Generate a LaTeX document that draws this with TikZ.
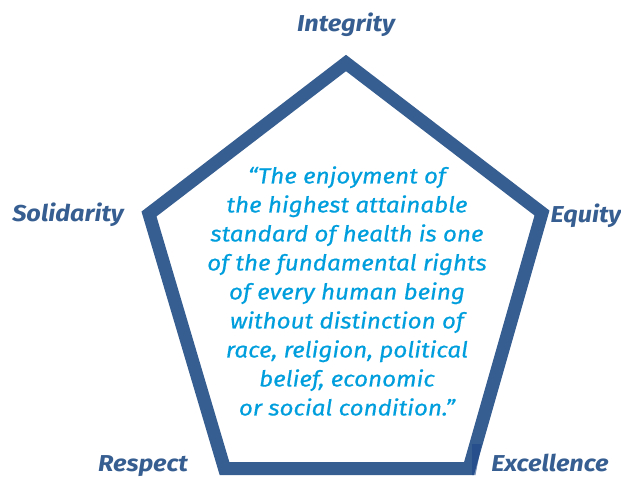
\documentclass[tikz,border=0pt]{standalone}
\usepackage{fontspec}
\setmainfont{Fira Sans}
\newfontfamily\valuefont{Fira Sans}[FakeStretch=1.1]
\newfontfamily\quotefont{Fira Sans}[FakeStretch=1.1, FakeBold=0.5]
\definecolor{frame}{RGB}{55,94,145}
\definecolor{frameshade}{RGB}{28,70,135}
\definecolor{quote}{RGB}{0,158,220}
\begin{document}
\begin{tikzpicture}[x=1pt,y=-1pt,
  value/.style={font=\valuefont\fontsize{23}{26}\selectfont\bfseries\itshape, text=frame, inner sep=0pt, anchor=base},
  quotetext/.style={font=\quotefont\fontsize{22}{29}\selectfont\itshape, text=quote, align=center, inner sep=0pt}]
  \useasboundingbox (0,0) rectangle (621,477);
  % corners of the pentagon frame
  \coordinate (top) at (346,63);
  \coordinate (right) at (542,213);
  \coordinate (br) at (469,468.5);
  \coordinate (bl) at (224.5,468.5);
  \coordinate (left) at (149,214);
  \draw[frame, line width=13pt, line join=miter] (top) -- (right) -- (br) -- (bl) -- (left) -- cycle;
  % slightly darker sliver at the lower right corner
  \fill[frameshade, opacity=0.6] (472,444) -- (481.5,444) -- (475.5,475) -- (472,475) -- cycle;
  % the five values, placed by their baselines
  \node[value] (integrity) at (346,31) {Integrity};
  \node[value] (solidarity) at (68,221) {Solidarity};
  \node[value] (equity) at (586,222) {Equity};
  \node[value] (respect) at (143,471) {Respect};
  \node[value] (excellence) at (550,471) {Excellence};
  % the quotation
  \node[quotetext] (quote) at (347,291) {“The enjoyment of\\the highest attainable\\standard of health is one\\of the fundamental rights\\of every human being\\without distinction of\\race, religion, political\\belief, economic\\or social condition.”};
\end{tikzpicture}
\end{document}
